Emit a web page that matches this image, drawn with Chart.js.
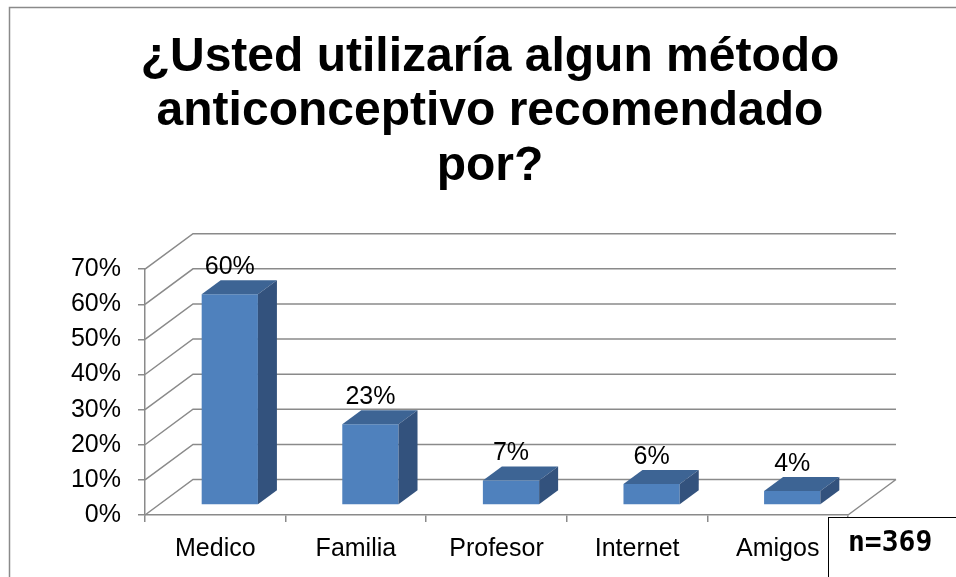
<!DOCTYPE html>
<html lang="es">
<head>
<meta charset="utf-8">
<title>¿Usted utilizaría algun método anticonceptivo recomendado por?</title>
<script src="https://cdn.jsdelivr.net/npm/chart.js@4.4.1/dist/chart.umd.min.js"></script>
<style>
    html, body { margin: 0; padding: 0; background: #fff; overflow: hidden; }
    #contenedor { width: 956px; height: 577px; position: relative; }
</style>
</head>
<body>
<div id="contenedor"><canvas id="grafico"></canvas></div>
<script>
// Datos del gráfico
const categorias = ['Medico', 'Familia', 'Profesor', 'Internet', 'Amigos'];
const porcentajes = [60, 23, 7, 6, 4];
const marcasEje = [0, 10, 20, 30, 40, 50, 60, 70];
const tituloLineas = ['¿Usted utilizaría algun método', 'anticonceptivo recomendado', 'por?'];
const notaMuestra = 'n=369';

document.addEventListener('DOMContentLoaded', function() {
    const ctx = document.getElementById('grafico').getContext('2d');
    const fuente = '"Liberation Sans", Arial, sans-serif';
    const gris = '#8a8a8a';

    // Desplazamientos de la perspectiva 3D
    const fondo = { x: 48, y: -35.5 };   // pared del fondo
    const frente = { x: 14.5, y: -10 };  // cara frontal de las barras
    const grosor = { x: 19, y: -14 };    // profundidad de cada barra

    const efecto3d = {
        id: 'efecto3d',
        beforeDraw(chart) {
            const c = chart.ctx;
            c.save();
            c.fillStyle = '#fff';
            c.fillRect(0, 0, chart.width, chart.height);
            c.strokeStyle = gris;
            c.lineWidth = 1.5;
            c.strokeRect(9.5, 7.5, chart.width + 20, chart.height + 20);
            c.restore();
        },
        beforeDatasetsDraw(chart) {
            const c = chart.ctx;
            const a = chart.chartArea;
            const y = chart.scales.y;
            // Líneas de la pared lateral y del fondo
            c.save();
            c.strokeStyle = gris;
            c.lineWidth = 1.5;
            c.beginPath();
            y.ticks.forEach(t => {
                const py = y.getPixelForValue(t.value);
                c.moveTo(a.left, py);
                c.lineTo(a.left + fondo.x, py + fondo.y);
                c.lineTo(a.right + fondo.x, py + fondo.y);
            });
            c.moveTo(a.right, a.bottom);
            c.lineTo(a.right + fondo.x, a.bottom + fondo.y);
            c.stroke();
            c.restore();
            // Las barras se dibujan un poco hacia el fondo
            c.save();
            c.translate(frente.x, frente.y);
        },
        afterDatasetsDraw(chart) {
            const c = chart.ctx;
            chart.getDatasetMeta(0).data.forEach((barra, i) => {
                const { x, y, base, width } = barra.getProps(['x', 'y', 'base', 'width'], true);
                const izq = x - width / 2;
                const der = x + width / 2;

                // Cara superior
                c.fillStyle = '#3D6494';
                c.beginPath();
                c.moveTo(izq, y);
                c.lineTo(izq + grosor.x, y + grosor.y);
                c.lineTo(der + grosor.x, y + grosor.y);
                c.lineTo(der, y);
                c.closePath();
                c.fill();

                // Cara lateral
                c.fillStyle = '#33527D';
                c.beginPath();
                c.moveTo(der, y);
                c.lineTo(der + grosor.x, y + grosor.y);
                c.lineTo(der + grosor.x, base + grosor.y);
                c.lineTo(der, base);
                c.closePath();
                c.fill();

                // Etiqueta del valor
                c.fillStyle = '#000';
                c.font = '25px ' + fuente;
                c.textAlign = 'center';
                c.textBaseline = 'middle';
                c.fillText(porcentajes[i] + '%', x, y + grosor.y - 13);
            });
            c.restore();
        },
        afterDraw(chart) {
            // Recuadro con el tamaño de la muestra
            const c = chart.ctx;
            c.save();
            c.fillStyle = '#fff';
            c.fillRect(828, 517, 200, 100);
            c.strokeStyle = '#000';
            c.lineWidth = 1;
            c.strokeRect(828.5, 517.5, 200, 100);
            c.fillStyle = '#000';
            c.font = 'bold 28px "DejaVu Sans Mono", monospace';
            c.textAlign = 'left';
            c.textBaseline = 'middle';
            c.fillText(notaMuestra, 848, 544);
            c.restore();
        }
    };

    new Chart(ctx, {
        type: 'bar',
        data: {
            labels: categorias,
            datasets: [{
                data: porcentajes,
                backgroundColor: '#4F81BD',
                borderWidth: 0,
                barPercentage: 0.4,
                categoryPercentage: 1,
                clip: false
            }]
        },
        options: {
            responsive: true,
            maintainAspectRatio: false,
            animation: false,
            events: [],
            layout: { padding: { top: 0, left: 24, right: 0, bottom: 0 } },
            plugins: {
                legend: { display: false },
                tooltip: { enabled: false },
                title: {
                    display: true,
                    text: tituloLineas,
                    color: '#000',
                    font: { family: fuente, size: 48, weight: 'bold', lineHeight: 1.14 },
                    padding: { top: 30, bottom: 75 }
                }
            },
            scales: {
                x: {
                    grid: { display: true, drawOnChartArea: false, offset: true, tickLength: 7, color: gris, lineWidth: 1.5 },
                    border: { display: true, color: gris, width: 1.5 },
                    ticks: { color: '#000', font: { family: fuente, size: 25 }, padding: 12, maxRotation: 0 },
                    afterFit(s) { s.height = 62; }
                },
                y: {
                    min: 0,
                    max: 70,
                    grid: { display: true, drawOnChartArea: false, tickLength: 7, color: gris, lineWidth: 1.5 },
                    border: { display: true, color: gris, width: 1.5 },
                    ticks: {
                        color: '#000',
                        font: { family: fuente, size: 25 },
                        padding: 17,
                        callback: v => v + '%'
                    },
                    afterBuildTicks(s) { s.ticks = marcasEje.map(v => ({ value: v })); },
                    afterFit(s) { s.width = 121; }
                },
                derecha: {
                    type: 'linear',
                    position: 'right',
                    display: true,
                    grid: { display: false },
                    border: { display: false },
                    ticks: { display: false },
                    afterFit(s) { s.width = 108; }
                }
            }
        },
        plugins: [efecto3d]
    });
});
</script>
</body>
</html>
